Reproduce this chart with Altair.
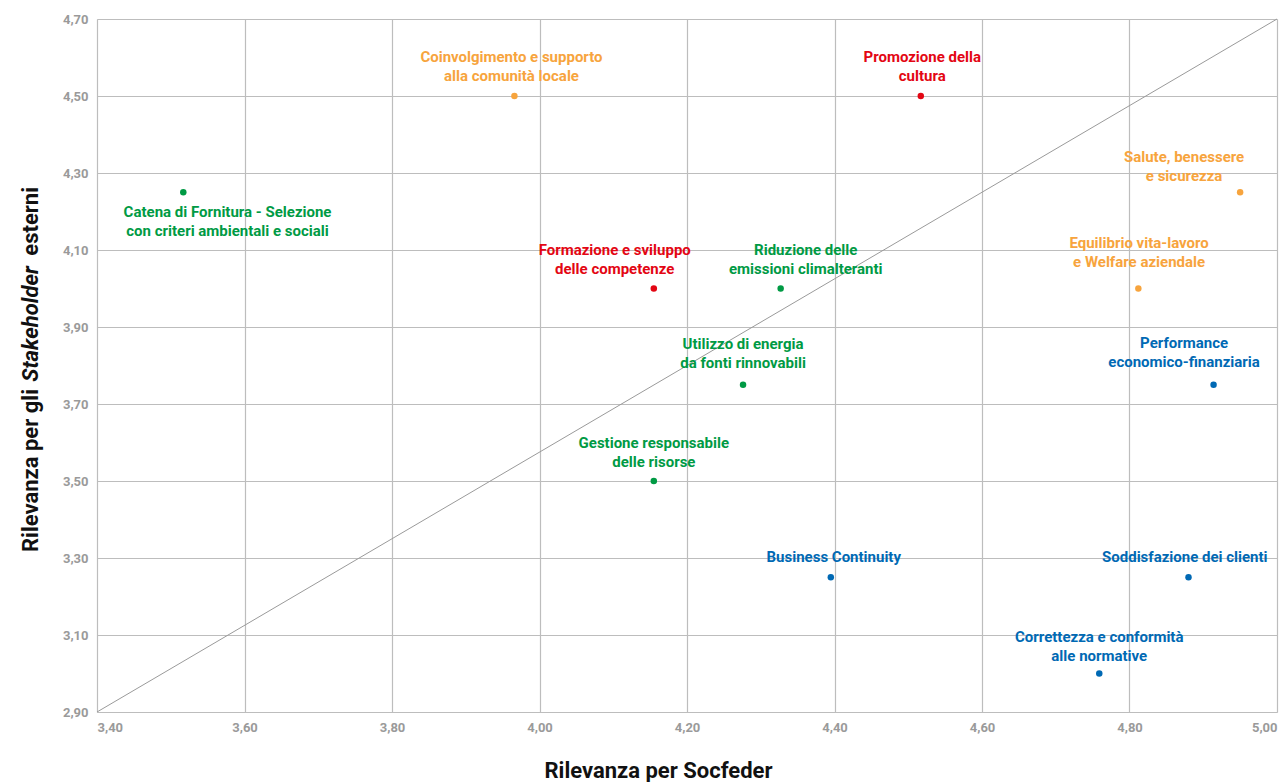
import altair as alt
import pandas as pd

labels = [
    "Catena di Fornitura - Selezione\ncon criteri ambientali e sociali",
    "Coinvolgimento e supporto\nalla comunità locale",
    "Promozione della\ncultura",
    "Salute, benessere\ne sicurezza",
    "Formazione e sviluppo\ndelle competenze",
    "Riduzione delle\nemissioni climalteranti",
    "Equilibrio vita-lavoro\ne Welfare aziendale",
    "Utilizzo di energia\nda fonti rinnovabili",
    "Performance\neconomico-finanziaria",
    "Gestione responsabile\ndelle risorse",
    "Business Continuity",
    "Soddisfazione dei clienti",
    "Correttezza e conformità\nalle normative",
]
socfeder = [3.517, 3.966, 4.517, 4.95, 4.155, 4.327, 4.812, 4.276, 4.914, 4.155, 4.395, 4.88, 4.759]
stakeholder = [4.25, 4.50, 4.50, 4.25, 4.00, 4.00, 4.00, 3.75, 3.75, 3.50, 3.25, 3.25, 3.00]
groups = ["Ambiente", "Sociale", "Cultura", "Sociale", "Cultura", "Ambiente", "Sociale",
          "Ambiente", "Economia", "Ambiente", "Economia", "Economia", "Economia"]
label_x = [3.577, 3.962, 4.519, 4.874, 4.102, 4.361, 4.813, 4.276, 4.874, 4.155, 4.399, 4.875, 4.759]
label_y = [4.199, 4.602, 4.602, 4.341, 4.100, 4.100, 4.118, 3.856, 3.859, 3.600, 3.303, 3.303, 3.094]

diag_x = [3.40, 5.00]
diag_y = [2.90, 4.70]

group_names = ["Sociale", "Cultura", "Ambiente", "Economia"]
group_colors = ["#F7A43D", "#E30613", "#009A44", "#0069B4"]

ytitle_parts = ["Rilevanza per gli", "Stakeholder", "esterni"]

df = pd.DataFrame({
    "label": labels, "x": socfeder, "y": stakeholder, "group": groups,
    "lx": label_x, "ly": label_y,
})
df["lines"] = df["label"].str.split("\n")
diag = pd.DataFrame({"x": diag_x, "y": diag_y})
one = pd.DataFrame({"k": [0]})

ticks_x = [3.4, 3.6, 3.8, 4.0, 4.2, 4.4, 4.6, 4.8, 5.0]
ticks_y = [2.9, 3.1, 3.3, 3.5, 3.7, 3.9, 4.1, 4.3, 4.5, 4.7]
label_expr = "replace(format(datum.value, '.2f'), '.', ',')"

xscale = alt.Scale(domain=[3.4, 5.0], nice=False, zero=False)
yscale = alt.Scale(domain=[2.9, 4.7], nice=False, zero=False)
color = alt.Color("group:N", scale=alt.Scale(domain=group_names, range=group_colors), legend=None)

common = dict(grid=True, gridColor="#BDBDBD", gridWidth=1.2, domain=False, ticks=False,
              labelColor="#9A9A9A", labelFont="Roboto", labelFontSize=13, labelFontWeight="bold",
              labelPadding=9, titleFont="Roboto", titleFontSize=22, titleFontWeight="bold",
              titleColor="#111111", titleAlign="center", titleBaseline="middle")
xaxis = alt.Axis(values=ticks_x, labelExpr=label_expr, title="Rilevanza per Socfeder",
                 titleX=561, titleY=58, **common)
yaxis = alt.Axis(values=ticks_y, labelExpr=label_expr, title=None, **common)

base = alt.Chart(df)

line = alt.Chart(diag).mark_line(color="#9A9A9A", strokeWidth=1).encode(
    x=alt.X("x:Q", scale=xscale, axis=xaxis),
    y=alt.Y("y:Q", scale=yscale, axis=yaxis),
)
points = base.mark_circle(size=42, opacity=1).encode(
    x=alt.X("x:Q", scale=xscale), y=alt.Y("y:Q", scale=yscale), color=color
)
texts = base.mark_text(font="Roboto", fontSize=15, fontWeight="bold", baseline="middle",
                       align="center", lineHeight=19).encode(
    x=alt.X("lx:Q", scale=xscale), y=alt.Y("ly:Q", scale=yscale), text="lines", color=color
)

tstyle = dict(font="Roboto", fontSize=22, fontWeight="bold", color="#111111",
              angle=270, baseline="middle")
yt1 = alt.Chart(one).mark_text(align="left", **tstyle).encode(
    x=alt.value(-66), y=alt.value(533), text=alt.value(ytitle_parts[0]))
yt2 = alt.Chart(one).mark_text(align="center", fontStyle="italic", **tstyle).encode(
    x=alt.value(-66), y=alt.value(305), text=alt.value(ytitle_parts[1]))
yt3 = alt.Chart(one).mark_text(align="right", **tstyle).encode(
    x=alt.value(-66), y=alt.value(168), text=alt.value(ytitle_parts[2]))

chart = alt.layer(line, points, texts, yt1, yt2, yt3).properties(
    width=1180, height=693,
    autosize=alt.AutoSizeParams(type="none"),
    padding={"left": 89, "right": 3, "top": 11, "bottom": 70},
).configure_view(stroke=None).configure(background="white")

chart.save("out.html", embed_options={"renderer": "svg", "actions": False})
